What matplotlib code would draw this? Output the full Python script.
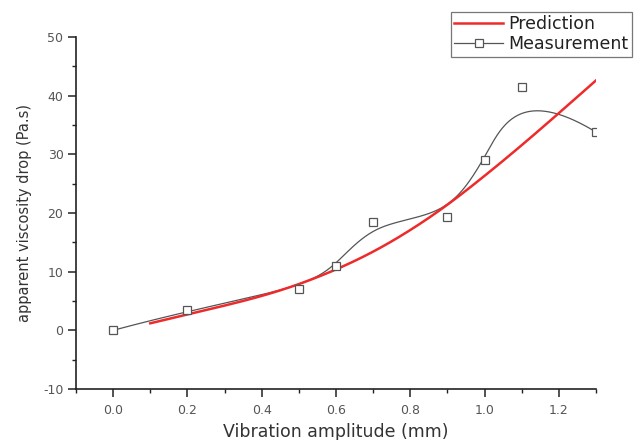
import numpy as np
import matplotlib
matplotlib.use("Agg")
import matplotlib.pyplot as plt
from matplotlib.ticker import MultipleLocator

plt.rcParams['font.family'] = ['DejaVu Sans']
plt.rcParams['axes.unicode_minus'] = False

meas_x = [0.0, 0.2, 0.5, 0.6, 0.7, 0.9, 1.0, 1.1, 1.3]
meas_y = [0.0, 3.4, 7.0, 10.9, 18.5, 19.4, 29.0, 41.5, 33.8]

# Model prediction
pred_x = [0.1, 0.2, 0.3, 0.4, 0.5, 0.6, 0.7, 0.8, 0.9, 1.0, 1.1, 1.2, 1.3]
pred_y = [1.2, 2.7, 4.2, 5.8, 7.8, 10.3, 13.3, 17.0, 21.3, 26.3, 31.5, 37.0, 42.6]


def bspline(px, py, n=400, k=3):
    # clamped cubic B-spline using the data points as control points
    P = np.column_stack([px, py])
    m = len(P)
    knots = np.concatenate([np.zeros(k), np.linspace(0, 1, m - k + 1), np.ones(k)])
    t = np.linspace(0, 1 - 1e-9, n)
    N = np.zeros((n, len(knots) - 1))
    for i in range(len(knots) - 1):
        N[:, i] = (t >= knots[i]) & (t < knots[i + 1])
    for d in range(1, k + 1):
        Nn = np.zeros((n, len(knots) - 1 - d))
        for i in range(len(knots) - 1 - d):
            a = knots[i + d] - knots[i]
            b = knots[i + d + 1] - knots[i + 1]
            left = (t - knots[i]) / a * N[:, i] if a > 0 else 0
            right = (knots[i + d + 1] - t) / b * N[:, i + 1] if b > 0 else 0
            Nn[:, i] = left + right
        N = Nn
    C = N @ P
    C[-1] = P[-1]
    return C[:, 0], C[:, 1]


fig = plt.figure(figsize=(6.37, 4.4), dpi=100)
ax = fig.add_axes([0.1193, 0.1159, 0.8163, 0.8])

sx, sy = bspline(meas_x, meas_y)
px, py = bspline(pred_x, pred_y)
ax.plot(px, py, color='#ee2a2a', lw=1.8, label='Prediction', zorder=3)
ax.plot(sx, sy, color='#555555', lw=0.9, zorder=2)
ax.plot(meas_x, meas_y, ls='none', marker='s', ms=6, mfc='white', mec='#555555',
        mew=0.9, zorder=4)
# legend proxy
ax.plot([], [], color='#555555', lw=0.9, marker='s', ms=6, mfc='white', mec='#555555',
        mew=0.9, label='Measurement')

ax.set_xlim(-0.1, 1.3)
ax.set_ylim(-10, 50)
ax.xaxis.set_minor_locator(MultipleLocator(0.1))
ax.yaxis.set_major_locator(MultipleLocator(10))
ax.yaxis.set_minor_locator(MultipleLocator(5))
ax.set_xticks([0.0, 0.2, 0.4, 0.6, 0.8, 1.0, 1.2])
ax.set_xticklabels(['0.0', '0.2', '0.4', '0.6', '0.8', '1.0', '1.2'])

for s in ['top', 'right']:
    ax.spines[s].set_visible(False)
for s in ['left', 'bottom']:
    ax.spines[s].set_linewidth(1.2)
    ax.spines[s].set_color('#222222')
ax.tick_params(which='major', direction='out', length=6, width=1.1, labelsize=9,
               labelcolor='#555555', colors='#222222')
ax.tick_params(axis='x', which='major', pad=5)
ax.tick_params(axis='y', which='major', pad=3)
ax.tick_params(which='minor', direction='out', length=3, width=1.0, colors='#222222')
for lab in ax.get_xticklabels() + ax.get_yticklabels():
    lab.set_color('#555555')

ax.set_xlabel('Vibration amplitude (mm)', fontsize=12.5, color='#333333', labelpad=4)
ax.set_ylabel('apparent viscosity drop (Pa.s)', fontsize=10.5, color='#333333', labelpad=8)

leg = fig.legend(loc='upper left', bbox_to_anchor=(451 / 637, 1 - 12 / 440),
                 fontsize=12.5, frameon=True, fancybox=False, handlelength=2.8,
                 borderpad=0.2, labelspacing=0.1, handletextpad=0.3, borderaxespad=0)
leg.get_frame().set_edgecolor('#555555')
leg.get_frame().set_linewidth(0.9)
for t in leg.get_texts():
    t.set_color('#222222')

fig.savefig('out.png', dpi=100)
